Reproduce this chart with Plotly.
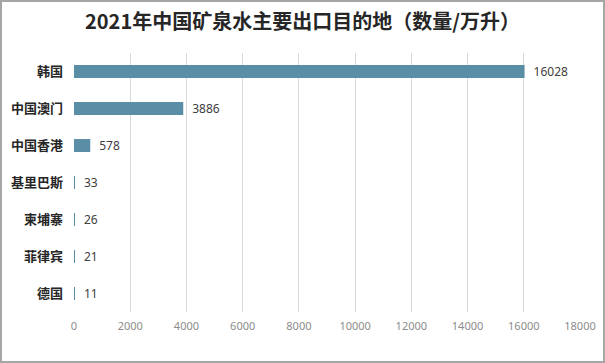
import plotly.graph_objects as go

categories = ["韩国", "中国澳门", "中国香港", "基里巴斯", "柬埔寨", "菲律宾", "德国"]
values = [16028, 3886, 578, 33, 26, 21, 11]
x_ticks = [0, 2000, 4000, 6000, 8000, 10000, 12000, 14000, 16000, 18000]

W, H = 605, 363
ml, mr, mt, mb = 74, 25, 53, 51

fig = go.Figure(go.Bar(
    y=categories, x=values, orientation="h",
    marker=dict(color="#5A8DA6", line=dict(width=0)),
    width=0.35,
    text=["\u2002" + str(v) for v in values], textposition="outside",
    textfont=dict(family="Noto Sans, sans-serif", size=12, color="#404040"),
    constraintext="none",
    cliponaxis=False,
))

fig.update_layout(
    width=W, height=H,
    margin=dict(l=ml, r=mr, t=mt, b=mb, autoexpand=False),
    paper_bgcolor="white", plot_bgcolor="white",
    title=dict(text="<b>2021年中国矿泉水主要出口目的地（数量/万升）</b>",
               x=0.5, xanchor="center", y=1 - 22 / H, yanchor="middle",
               font=dict(family="Noto Sans CJK SC", size=20, color="#262626")),
    xaxis=dict(range=[0, 18000], tickvals=x_ticks, ticktext=[str(t) for t in x_ticks],
               showgrid=True, gridcolor="#D9D9D9", gridwidth=1, zeroline=False,
               showline=False, ticks="", ticklabelstandoff=6, automargin=False,
               tickfont=dict(family="Noto Sans, sans-serif", size=11, color="#8C8C8C")),
    yaxis=dict(categoryorder="array", categoryarray=categories[::-1],
               showgrid=False, zeroline=False, showline=False, ticks="",
               ticklabelstandoff=10, automargin=False,
               tickfont=dict(family="Noto Sans CJK SC", size=13, color="#262626", weight="bold")),
    showlegend=False,
)

# outer frame around the whole chart
pw = W - ml - mr
ph = H - mt - mb
fig.add_shape(type="rect", xref="paper", yref="paper",
              x0=(-ml + 1) / pw, x1=(pw + mr - 1) / pw,
              y0=(-mb + 1) / ph, y1=(ph + mt - 1) / ph,
              line=dict(color="#A6A6A6", width=2), fillcolor="rgba(0,0,0,0)")

fig.write_html("out.html", config={"displayModeBar": False},
               post_script="document.body.style.margin='0';document.body.style.overflow='hidden';")
